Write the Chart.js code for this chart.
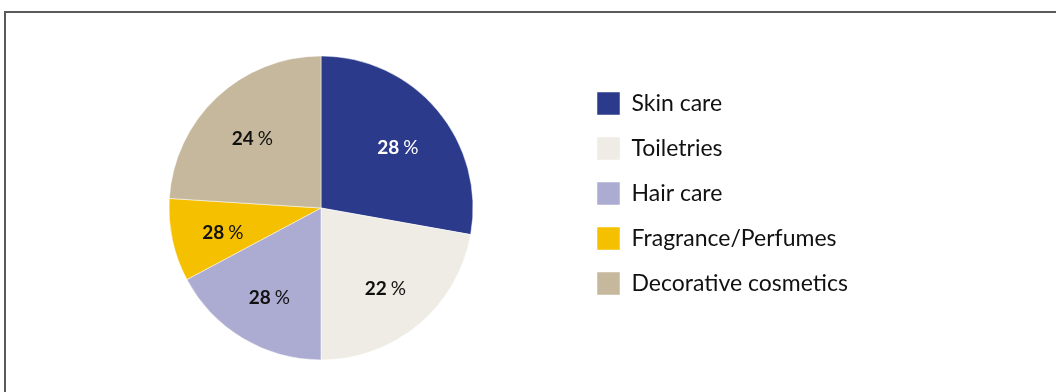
<!DOCTYPE html>
<html>
<head>
<meta charset="utf-8">
<script src="https://cdn.jsdelivr.net/npm/chart.js@4.4.1/dist/chart.umd.min.js"></script>
<style>
  html, body { margin: 0; padding: 0; background: #fff; }
  #wrap { position: relative; width: 1056px; height: 392px; overflow: hidden; }
  #frame { position: absolute; left: 4px; top: 11px; width: 1100px; height: 420px;
           border-top: 2px solid #5a5a5a; border-left: 2px solid #5a5a5a; }
  canvas { position: absolute; left: 0; top: 0; }
</style>
</head>
<body>
<div id="wrap">
  <div id="frame"></div>
  <canvas id="marketChart" width="1056" height="392"></canvas>
</div>
<script>
// Categories, shares and the labels printed on the slices
var categories = ["Skin care", "Toiletries", "Hair care", "Fragrance/Perfumes", "Decorative cosmetics"];
var shares = [27.8, 22.2, 17.2, 8.8, 24];
var sliceLabels = ["28", "22", "28", "28", "24"];
var sliceColors = ["#2b3a8a", "#efece5", "#acabd1", "#f5c000", "#c5b89c"];
var labelColors = ["#ffffff", "#111111", "#111111", "#111111", "#111111"];

var fontFamily = "Lato, 'Open Sans', sans-serif";
var legendFontSize = 23;
var legendPad = 22;
var boxSize = 23;

// work out how wide the legend gets so the pie lands where it should
var mctx = document.createElement("canvas").getContext("2d");
mctx.font = legendFontSize + "px " + fontFamily;
var maxText = Math.max.apply(null, categories.map(function (c) { return mctx.measureText(c).width; }));
var legendWidth = legendPad + boxSize + legendFontSize / 2 + maxText + 10;
var areaRight = 575;
var padRight = Math.max(0, 1056 - areaRight - legendWidth);

// draws "28 %" style labels inside the slices
var pctLabels = {
  id: "pctLabels",
  afterDatasetsDraw: function (chart) {
    var ctx = chart.ctx;
    chart.getDatasetMeta(0).data.forEach(function (arc, i) {
      var p = arc.getProps(["x", "y", "startAngle", "endAngle", "outerRadius"]);
      var mid = (p.startAngle + p.endAngle) / 2;
      var r = p.outerRadius * 0.66;
      var x = p.x + Math.cos(mid) * r;
      var y = p.y + Math.sin(mid) * r + 4;
      ctx.save();
      ctx.textBaseline = "middle";
      ctx.textAlign = "left";
      ctx.fillStyle = labelColors[i];
      ctx.font = "bold 19px " + fontFamily;
      var w1 = ctx.measureText(sliceLabels[i]).width;
      ctx.font = "19px " + fontFamily;
      var w2 = ctx.measureText("%").width;
      var gap = 4;
      var x0 = x - (w1 + gap + w2) / 2;
      ctx.font = "bold 19px " + fontFamily;
      ctx.fillText(sliceLabels[i], x0, y);
      ctx.font = "19px " + fontFamily;
      ctx.fillText("%", x0 + w1 + gap, y);
      ctx.restore();
    });
  }
};

new Chart(document.getElementById("marketChart"), {
  type: "pie",
  data: {
    labels: categories,
    datasets: [{
      data: shares,
      backgroundColor: sliceColors,
      borderColor: "#ffffff",
      borderWidth: 0.5,
      radius: 152,
      clip: false
    }]
  },
  options: {
    responsive: false,
    animation: false,
    layout: { padding: { top: 70, bottom: 46, left: 67, right: padRight } },
    plugins: {
      tooltip: { enabled: false },
      legend: {
        position: "right",
        align: "start",
        labels: {
          boxWidth: boxSize,
          boxHeight: boxSize,
          padding: legendPad,
          color: "#111111",
          font: { family: fontFamily, size: legendFontSize }
        }
      }
    }
  },
  plugins: [pctLabels]
});
</script>
</body>
</html>
